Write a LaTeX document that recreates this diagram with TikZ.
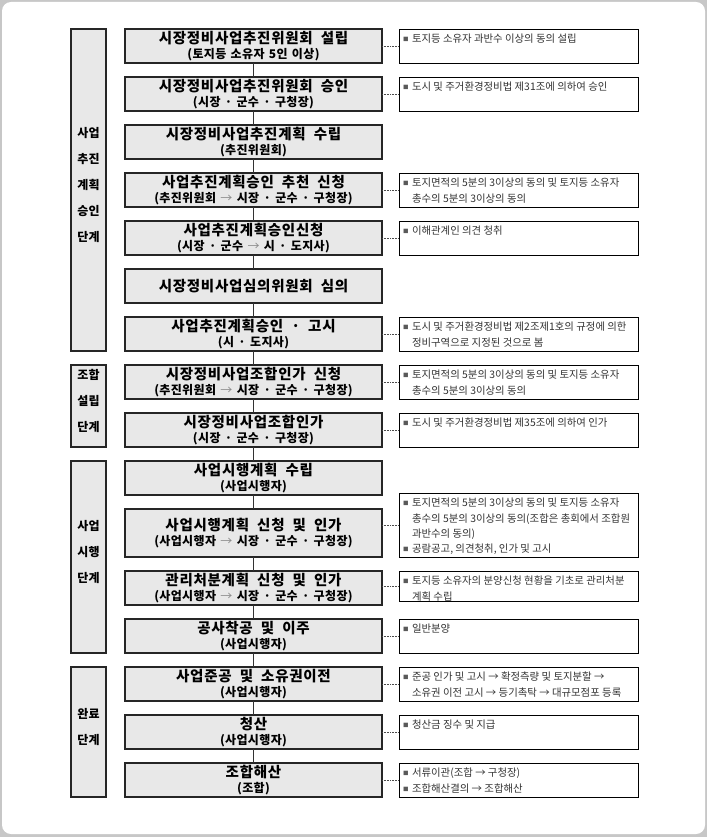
\documentclass[tikz,border=0pt]{standalone}
\usepackage{fontspec}
\usepackage{xcolor}
\usepackage{tikz}
\usetikzlibrary{positioning, fit}
\setmainfont{Noto Sans CJK KR}
\newfontfamily\krfont{Noto Sans CJK KR}
\newfontfamily\krtitle[LetterSpace=5, WordSpace=2]{Noto Sans CJK KR}
\newfontfamily\krsub[LetterSpace=3, WordSpace=1.4]{Noto Sans CJK KR}
\newcommand{\who}[1]{{\krsub\bfseries\fontsize{12}{15}\selectfont #1}}
\newcommand{\toarr}{{\mdseries\color{black!45}→}}
\newcommand{\bul}{\makebox[9pt][l]{\raisebox{0.8pt}{\color{black!65}\fontsize{5.5}{5}\selectfont ■}}}
\newcommand{\ind}{\hspace*{9pt}}
\newcommand{\notetext}[2][28pt]{\parbox[c][#1][t]{231pt}{\raggedright\strut #2}}
\tikzset{
  stepbox/.style={rectangle, draw=black!85, line width=1.1pt, outer sep=0pt, fill=gray!18, align=center, minimum width=257pt, minimum height=34pt, inner sep=1pt, font=\krtitle\bfseries\fontsize{14.5}{15}\selectfont},
  phase/.style={rectangle, draw=black!85, line width=1.1pt, outer sep=0pt, fill=gray!18, align=center, inner sep=0pt, font=\krfont\bfseries\fontsize{12}{26}\selectfont},
  note/.style={rectangle, draw=black, line width=0.9pt, outer sep=0pt, fill=white, inner xsep=4pt, inner ysep=3pt, anchor=north west, font=\krfont\fontsize{10.4}{15.3}\selectfont, text=black!80},
  flow/.style={line width=0.9pt, draw=black!80},
  link/.style={densely dotted, line width=0.6pt, draw=black!70},
}
\begin{document}
\begin{tikzpicture}[x=1pt, y=-1pt, node distance=14pt]
  \fill[black!22] (0,0) rectangle (707,837);
  \fill[white, rounded corners=9pt] (2,2) rectangle (705,834);

  \node[stepbox] (m1) at (253.5,46) {시장정비사업추진위원회 설립\\ \who{(토지등 소유자 5인 이상)}};

  \node[stepbox, below=of m1] (m2) {시장정비사업추진위원회 승인\\ \who{(시장 · 군수 · 구청장)}};

  \node[stepbox, below=of m2] (m3) {시장정비사업추진계획 수립\\ \who{(추진위원회)}};

  \node[stepbox, below=of m3] (m4) {사업추진계획승인 추천 신청\\ \who{(추진위원회 \toarr{} 시장 · 군수 · 구청장)}};

  \node[stepbox, below=of m4] (m5) {사업추진계획승인신청\\ \who{(시장 · 군수 \toarr{} 시 · 도지사)}};

  \node[stepbox, below=of m5] (m6) {시장정비사업심의위원회 심의};

  \node[stepbox, below=of m6] (m7) {사업추진계획승인 · 고시\\ \who{(시 · 도지사)}};

  \node[stepbox, below=of m7] (m8) {시장정비사업조합인가 신청\\ \who{(추진위원회 \toarr{} 시장 · 군수 · 구청장)}};

  \node[stepbox, below=of m8] (m9) {시장정비사업조합인가\\ \who{(시장 · 군수 · 구청장)}};

  \node[stepbox, below=of m9] (m10) {사업시행계획 수립\\ \who{(사업시행자)}};

  \node[stepbox, below=of m10, minimum height=48pt] (m11) {사업시행계획 신청 및 인가\\ \who{(사업시행자 \toarr{} 시장 · 군수 · 구청장)}};

  \node[stepbox, below=of m11] (m12) {관리처분계획 신청 및 인가\\ \who{(사업시행자 \toarr{} 시장 · 군수 · 구청장)}};

  \node[stepbox, below=of m12] (m13) {공사착공 및 이주\\ \who{(사업시행자)}};

  \node[stepbox, below=of m13] (m14) {사업준공 및 소유권이전\\ \who{(사업시행자)}};

  \node[stepbox, below=of m14] (m15) {청산\\ \who{(사업시행자)}};

  \node[stepbox, below=of m15] (m16) {조합해산\\ \who{(조합)}};

  \node[phase, fit={([xshift=-54pt]m1.north west) ([xshift=-19pt]m7.south west)}] (p1) {사업\\추진\\계획\\승인\\단계};

  \node[phase, fit={([xshift=-54pt]m8.north west) ([xshift=-19pt]m9.south west)}] (p2) {조합\\설립\\단계};

  \node[phase, fit={([xshift=-54pt]m10.north west) ([xshift=-19pt]m13.south west)}] (p3) {사업\\시행\\단계};

  \node[phase, fit={([xshift=-54pt]m14.north west) ([xshift=-19pt]m16.south west)}] (p4) {완료\\단계};

  \node[note] (r1) at ([xshift=17pt]m1.north east) {\notetext{\bul 토지등 소유자 과반수 이상의 동의 설립}};

  \node[note] (r2) at ([xshift=17pt]m2.north east) {\notetext{\bul 도시 및 주거환경정비법 제31조에 의하여 승인}};

  \node[note] (r4) at ([xshift=17pt]m4.north east) {\notetext{\bul 토지면적의 5분의 3이상의 동의 및 토지등 소유자\\ \ind 총수의 5분의 3이상의 동의}};

  \node[note] (r5) at ([xshift=17pt]m5.north east) {\notetext{\bul 이해관계인 의견 청취}};

  \node[note] (r7) at ([xshift=17pt]m7.north east) {\notetext{\bul 도시 및 주거환경정비법 제2조제1호의 규정에 의한\\ \ind 정비구역으로 지정된 것으로 봄}};

  \node[note] (r8) at ([xshift=17pt]m8.north east) {\notetext{\bul 토지면적의 5분의 3이상의 동의 및 토지등 소유자\\ \ind 총수의 5분의 3이상의 동의}};

  \node[note] (r9) at ([xshift=17pt]m9.north east) {\notetext{\bul 도시 및 주거환경정비법 제35조에 의하여 인가}};

  \node[note, anchor=south west] (r11) at ([xshift=17pt]m11.south east) {\notetext[58pt]{\bul 토지면적의 5분의 3이상의 동의 및 토지등 소유자\\ \ind 총수의 5분의 3이상의 동의(조합은 총회에서 조합원\\ \ind 과반수의 동의)\\ \bul 공람공고, 의견청취, 인가 및 고시}};

  \node[note] (r12) at ([xshift=17pt]m12.north east) {\notetext[24pt]{\bul 토지등 소유자의 분양신청 현황을 기초로 관리처분\\ \ind 계획 수립}};

  \node[note] (r13) at ([xshift=17pt]m13.north east) {\notetext{\bul 일반분양}};

  \node[note] (r14) at ([xshift=17pt]m14.north east) {\notetext{\bul 준공 인가 및 고시 → 확정측량 및 토지분할 →\\ \ind 소유권 이전 고시 → 등기촉탁 → 대규모점포 등록}};

  \node[note] (r15) at ([xshift=17pt]m15.north east) {\notetext{\bul 청산금 징수 및 지급}};

  \node[note] (r16) at ([xshift=17pt]m16.north east) {\notetext{\bul 서류이관(조합 → 구청장)\\ \bul 조합해산결의 → 조합해산}};

  \draw[flow] (m1) -- (m2);
  \draw[flow] (m2) -- (m3);
  \draw[flow] (m3) -- (m4);
  \draw[flow] (m4) -- (m5);
  \draw[flow] (m5) -- (m6);
  \draw[flow] (m6) -- (m7);
  \draw[flow] (m7) -- (m8);
  \draw[flow] (m8) -- (m9);
  \draw[flow] (m9) -- (m10);
  \draw[flow] (m10) -- (m11);
  \draw[flow] (m11) -- (m12);
  \draw[flow] (m12) -- (m13);
  \draw[flow] (m13) -- (m14);
  \draw[flow] (m14) -- (m15);
  \draw[flow] (m15) -- (m16);

  \draw[link] (r1.west -| m1.east) -- (r1.west);
  \draw[link] (r2.west -| m2.east) -- (r2.west);
  \draw[link] (r4.west -| m4.east) -- (r4.west);
  \draw[link] (r5.west -| m5.east) -- (r5.west);
  \draw[link] (r7.west -| m7.east) -- (r7.west);
  \draw[link] (r8.west -| m8.east) -- (r8.west);
  \draw[link] (r9.west -| m9.east) -- (r9.west);
  \draw[link] (r11.west -| m11.east) -- (r11.west);
  \draw[link] (r12.west -| m12.east) -- (r12.west);
  \draw[link] (r13.west -| m13.east) -- (r13.west);
  \draw[link] (r14.west -| m14.east) -- (r14.west);
  \draw[link] (r15.west -| m15.east) -- (r15.west);
  \draw[link] (r16.west -| m16.east) -- (r16.west);
\end{tikzpicture}
\end{document}
